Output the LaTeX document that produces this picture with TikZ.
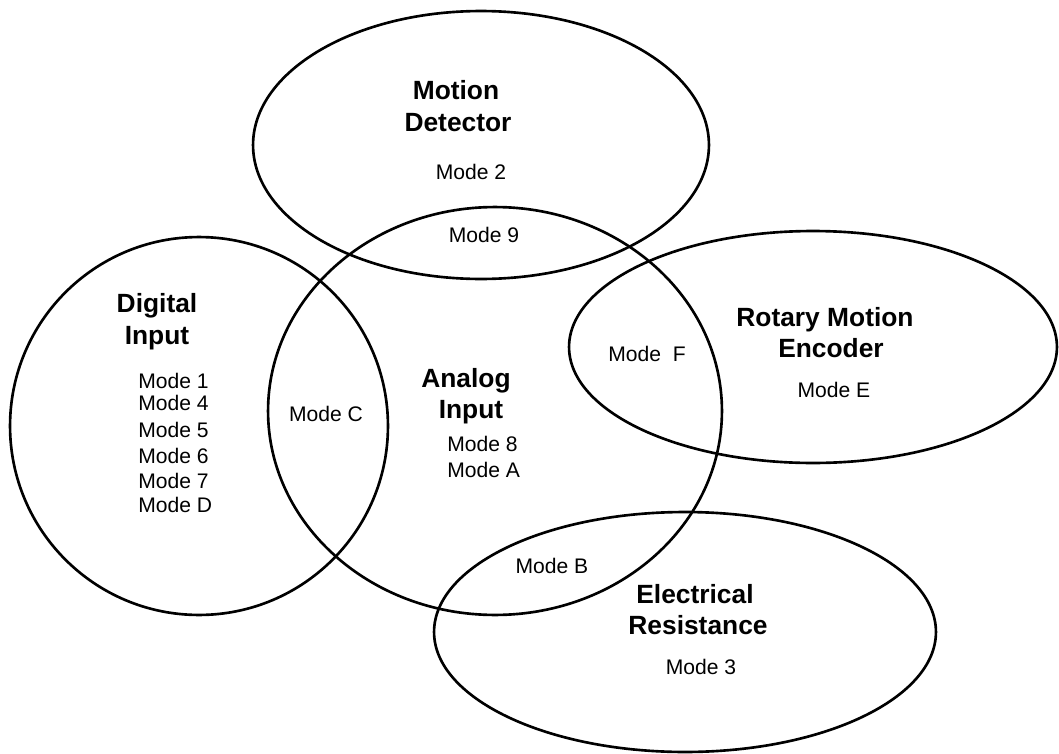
\documentclass[tikz,border=0pt]{standalone}
\usepackage{fontspec}
\setmainfont{Liberation Sans}
\usepackage{tikz}
\usetikzlibrary{shapes}
\tikzstyle{group}=[ellipse,draw=black,line width=1.5pt,inner sep=0pt]
\tikzstyle{title}=[anchor=base,inner sep=0pt,font=\bfseries\fontsize{15}{18}\selectfont]
\tikzstyle{mode}=[anchor=base,inner sep=0pt,font=\fontsize{12}{14}\selectfont]

\begin{document}
\begin{tikzpicture}[x=0.02cm,y=-0.02cm]
        \useasboundingbox (0,0) rectangle (1059,754);
        \node at (481,145) [group,minimum width=9.12cm,minimum height=5.36cm] (motion) {};
        \node at (495,411) [group,minimum width=9.08cm,minimum height=8.16cm] (analog) {};
        \node at (199,426) [group,minimum width=7.56cm,minimum height=7.56cm] (digital) {};
        \node at (813,347) [group,minimum width=9.76cm,minimum height=4.64cm] (rotary) {};
        \node at (685,632) [group,minimum width=10.04cm,minimum height=4.8cm] (electrical) {};

        \node at (456,99) [title] (motionA) {Motion};
        \node at (458,131) [title] (motionB) {Detector};
        \node at (157,312) [title] (digitalA) {Digital};
        \node at (157,344) [title] (digitalB) {Input};
        \node at (466,387) [title] (analogA) {Analog};
        \node at (471,418) [title] (analogB) {Input};
        \node at (825,326) [title] (rotaryA) {Rotary Motion};
        \node at (831,357) [title] (rotaryB) {Encoder};
        \node at (695,603) [title] (electricalA) {Electrical};
        \node at (698,634) [title] (electricalB) {Resistance};

        \node at (471,179) [mode] (m2) {Mode 2};
        \node at (484,242) [mode] (m9) {Mode 9};
        \node at (326,421) [mode] (mC) {Mode C};
        \node at (647,361) [mode] (mF) {Mode\ \ F};
        \node at (834,397) [mode] (mE) {Mode E};
        \node at (552,573) [mode] (mB) {Mode B};
        \node at (701,674) [mode] (m3) {Mode 3};
        \node at (447,451) [mode,anchor=base west] (m8) {Mode 8};
        \node at (447,477) [mode,anchor=base west] (mA) {Mode A};
        \node at (138,388) [mode,anchor=base west] (m1) {Mode 1};
        \node at (138,410) [mode,anchor=base west] (m4) {Mode 4};
        \node at (138,437) [mode,anchor=base west] (m5) {Mode 5};
        \node at (138,463) [mode,anchor=base west] (m6) {Mode 6};
        \node at (138,488) [mode,anchor=base west] (m7) {Mode 7};
        \node at (138,512) [mode,anchor=base west] (mD) {Mode D};
      \end{tikzpicture}
\end{document}
